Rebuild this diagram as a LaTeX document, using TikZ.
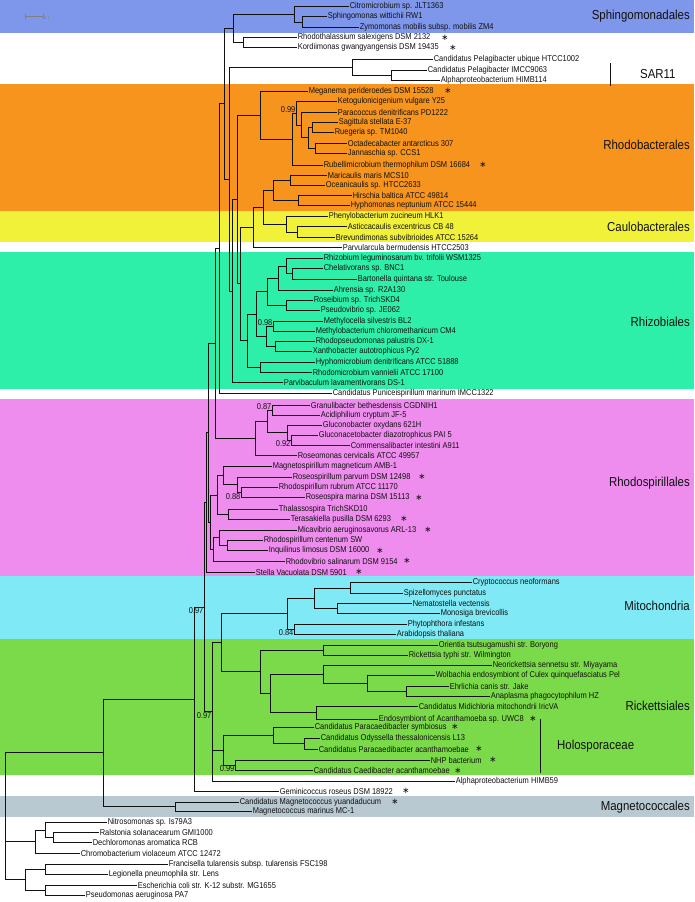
\documentclass[tikz,border=0pt]{standalone}
\usepackage{fontspec}
\setmainfont{Liberation Sans}[FakeStretch=0.88]
\newfontfamily\astfont{DejaVu Sans}
\newcommand\lbl{\fontsize{8.5}{9}\selectfont}
\newcommand\cladefnt{\fontsize{13}{14}\selectfont}
\definecolor{cSphc}{HTML}{7E97EB}
\definecolor{cOrg}{HTML}{F7941D}
\definecolor{cYel}{HTML}{F1F13A}
\definecolor{cTeal}{HTML}{2EEFA9}
\definecolor{cPink}{HTML}{EE8DEE}
\definecolor{cCyan}{HTML}{7FE9F5}
\definecolor{cGrn}{HTML}{7BDA4A}
\definecolor{cGry}{HTML}{B9C9D1}
\definecolor{lineC}{HTML}{111111}
\tikzset{
  leaf/.style={anchor=west, inner sep=0.6pt, font=\lbl, text=lineC},
  br/.style={draw=lineC, line width=0.9pt},
  ast/.style={inner sep=0pt, font=\astfont\fontsize{8.5}{9}\selectfont, text=lineC},
  supl/.style={inner sep=0.4pt, font=\lbl, text=lineC},
  clade/.style={anchor=east, inner sep=0pt, font=\cladefnt, text=lineC},
}
\begin{document}
\begin{tikzpicture}[x=1pt,y=-1pt]
\useasboundingbox (0,0) rectangle (694,902);
% bands
\fill[white] (0,0) rectangle (694,902);
\fill[cSphc] (0,0) rectangle (694,33);
\fill[cOrg] (0,84) rectangle (694,211);
\fill[cYel] (0,211) rectangle (694,242);
\fill[cTeal] (0,252) rectangle (694,389);
\fill[cPink] (0,399) rectangle (694,576);
\fill[cCyan] (0,576) rectangle (694,639);
\fill[cGrn] (0,639) rectangle (694,775);
\fill[cGry] (0,796) rectangle (694,817);
% leaves
\node[leaf] (L1) at (349,6.7) {Citromicrobium sp. JLT1363};
\node[leaf] (L2) at (327,16.7) {Sphingomonas wittichii RW1};
\node[leaf] (L3) at (359,27.3) {Zymomonas mobilis subsp. mobilis ZM4};
\node[leaf] (L4) at (297,37.7) {Rhodothalassium salexigens DSM 2132};
\node[leaf] (L5) at (297,47.7) {Kordiimonas gwangyangensis DSM 19435};
\node[leaf] (L6) at (433,59.3) {Candidatus Pelagibacter ubique HTCC1002};
\node[leaf] (L7) at (427,70) {Candidatus Pelagibacter IMCC9063};
\node[leaf] (L8) at (440,80) {Alphaproteobacterium HIMB114};
\node[leaf] (L9) at (308,91) {Meganema perideroedes DSM 15528};
\node[leaf] (L10) at (337,101.7) {Ketogulonicigenium vulgare Y25};
\node[leaf] (L11) at (337,112.3) {Paracoccus denitrificans PD1222};
\node[leaf] (L12) at (338,122.7) {Sagittula stellata E-37};
\node[leaf] (L13) at (334,132.3) {Ruegeria sp. TM1040};
\node[leaf] (L14) at (347,143.3) {Octadecabacter antarcticus 307};
\node[leaf] (L15) at (347,153.3) {Jannaschia sp. CCS1};
\node[leaf] (L16) at (323,165) {Rubellimicrobium thermophilum DSM 16684};
\node[leaf] (L17) at (327,175) {Maricaulis maris MCS10};
\node[leaf] (L18) at (325,185) {Oceanicaulis sp. HTCC2633};
\node[leaf] (L19) at (352,195) {Hirschia baltica ATCC 49814};
\node[leaf] (L20) at (350,205.7) {Hyphomonas neptunium ATCC 15444};
\node[leaf] (L21) at (328,216) {Phenylobacterium zucineum HLK1};
\node[leaf] (L22) at (347,226.7) {Asticcacaulis excentricus CB 48};
\node[leaf] (L23) at (335,237.3) {Brevundimonas subvibrioides ATCC 15264};
\node[leaf] (L24) at (342,247.3) {Parvularcula bermudensis HTCC2503};
\node[leaf] (L25) at (323,258.3) {Rhizobium leguminosarum bv. trifolii WSM1325};
\node[leaf] (L26) at (323,268.3) {Chelativorans sp. BNC1};
\node[leaf] (L27) at (357,279.3) {Bartonella quintana str. Toulouse};
\node[leaf] (L28) at (333,290) {Ahrensia sp. R2A130};
\node[leaf] (L29) at (313,300) {Roseibium sp. TrichSKD4};
\node[leaf] (L30) at (320,310.7) {Pseudovibrio sp. JE062};
\node[leaf] (L31) at (323,321) {Methylocella silvestris BL2};
\node[leaf] (L32) at (315,331) {Methylobacterium chloromethanicum CM4};
\node[leaf] (L33) at (315,341.7) {Rhodopseudomonas palustris DX-1};
\node[leaf] (L34) at (312,351.7) {Xanthobacter autotrophicus Py2};
\node[leaf] (L35) at (315,362.3) {Hyphomicrobium denitrificans ATCC 51888};
\node[leaf] (L36) at (312,372.3) {Rhodomicrobium vannielii ATCC 17100};
\node[leaf] (L37) at (283,382.7) {Parvibaculum lavamentivorans DS-1};
\node[leaf] (L38) at (332,393.3) {Candidatus Puniceispirillum marinum IMCC1322};
\node[leaf] (L39) at (310,405) {Granulibacter bethesdensis CGDNIH1};
\node[leaf] (L40) at (320,415) {Acidiphilium cryptum JF-5};
\node[leaf] (L41) at (322,425) {Gluconobacter oxydans 621H};
\node[leaf] (L42) at (318,435) {Gluconacetobacter diazotrophicus PAI 5};
\node[leaf] (L43) at (350,445) {Commensalibacter intestini A911};
\node[leaf] (L44) at (297,455.7) {Roseomonas cervicalis ATCC 49957};
\node[leaf] (L45) at (272,466.7) {Magnetospirillum magneticum AMB-1};
\node[leaf] (L46) at (292,477.3) {Roseospirillum parvum DSM 12498};
\node[leaf] (L47) at (278,487.3) {Rhodospirillum rubrum ATCC 11170};
\node[leaf] (L48) at (305,497.7) {Roseospira marina DSM 15113};
\node[leaf] (L49) at (278,509) {Thalassospira TrichSKD10};
\node[leaf] (L50) at (290,519.3) {Terasakiella pusilla DSM 6293};
\node[leaf] (L51) at (297,530) {Micavibrio aeruginosavorus ARL-13};
\node[leaf] (L52) at (263,540.7) {Rhodospirillum centenum SW};
\node[leaf] (L53) at (268,550.7) {Inquilinus limosus DSM 16000};
\node[leaf] (L54) at (285,561) {Rhodovibrio salinarum DSM 9154};
\node[leaf] (L55) at (255,572.3) {Stella Vacuolata DSM 5901};
\node[leaf] (L56) at (472,582.7) {Cryptococcus neoformans};
\node[leaf] (L57) at (403,593.3) {Spizellomyces punctatus};
\node[leaf] (L58) at (412,603.3) {Nematostella vectensis};
\node[leaf] (L59) at (440,613.3) {Monosiga brevicollis};
\node[leaf] (L60) at (407,624) {Phytophthora infestans};
\node[leaf] (L61) at (396,634) {Arabidopsis thaliana};
\node[leaf] (L62) at (438,645) {Orientia tsutsugamushi str. Boryong};
\node[leaf] (L63) at (408,655) {Rickettsia typhi str. Wilmington};
\node[leaf] (L64) at (492,665.7) {Neorickettsia sennetsu str. Miyayama};
\node[leaf] (L65) at (435,675.7) {Wolbachia endosymbiont of Culex quinquefasciatus Pel};
\node[leaf] (L66) at (449,686.7) {Ehrlichia canis str. Jake};
\node[leaf] (L67) at (490,696) {Anaplasma phagocytophilum HZ};
\node[leaf] (L68) at (418,706.7) {Candidatus Midichloria mitochondrii IricVA};
\node[leaf] (L69) at (378,719) {Endosymbiont of Acanthamoeba sp. UWC8};
\node[leaf] (L70) at (314,727.3) {Candidatus Paracaedibacter symbiosus};
\node[leaf] (L71) at (320,738.3) {Candidatus Odyssella thessalonicensis L13};
\node[leaf] (L72) at (318,749) {Candidatus Paracaedibacter acanthamoebae};
\node[leaf] (L73) at (430,760) {NHP bacterium};
\node[leaf] (L74) at (313,770.7) {Candidatus Caedibacter acanthamoebae};
\node[leaf] (L75) at (455,781) {Alphaproteobacterium HIMB59};
\node[leaf] (L76) at (279,791) {Geminicoccus roseus DSM 18922};
\node[leaf] (L77) at (239,802) {Candidatus Magnetococcus yuandaducum};
\node[leaf] (L78) at (252,811) {Magnetococcus marinus MC-1};
\node[leaf] (L79) at (107,822.3) {Nitrosomonas sp. Is79A3};
\node[leaf] (L80) at (99,832.7) {Ralstonia solanacearum GMI1000};
\node[leaf] (L81) at (92,842.7) {Dechloromonas aromatica RCB};
\node[leaf] (L82) at (80,853.3) {Chromobacterium violaceum ATCC 12472};
\node[leaf] (L83) at (168,864) {Francisella tularensis subsp. tularensis FSC198};
\node[leaf] (L84) at (108,874.3) {Legionella pneumophila str. Lens};
\node[leaf] (L85) at (137,885) {Escherichia coli str. K-12 substr. MG1655};
\node[leaf] (L86) at (85,895) {Pseudomonas aeruginosa PA7};
% asterisks
\node[ast] (s4) at (445,37.7) {∗};
\node[ast] (s5) at (453,47.7) {∗};
\node[ast] (s9) at (448,91) {∗};
\node[ast] (s16) at (483,165) {∗};
\node[ast] (s46) at (422,477.3) {∗};
\node[ast] (s48) at (419,497.7) {∗};
\node[ast] (s50) at (404,519.3) {∗};
\node[ast] (s51) at (428,530) {∗};
\node[ast] (s53) at (380,550.7) {∗};
\node[ast] (s54) at (407,561) {∗};
\node[ast] (s55) at (359,572.3) {∗};
\node[ast] (s69) at (533,719) {∗};
\node[ast] (s70) at (455,727.3) {∗};
\node[ast] (s72) at (479,749) {∗};
\node[ast] (s73) at (493,760) {∗};
\node[ast] (s74) at (458,770.7) {∗};
\node[ast] (s76) at (406,791) {∗};
\node[ast] (s77) at (395,802) {∗};
% internal nodes
\coordinate (nSZ) at (302,22.0);
\coordinate (nSph) at (294,14.35);
\coordinate (nRK) at (243,42.7);
\coordinate (nA1) at (233,28.5);
\coordinate (nP2) at (391,75);
\coordinate (nSAR) at (352,67.15);
\coordinate (nRu) at (312,127.5);
\coordinate (nOJ) at (315,148.3);
\coordinate (nRO) at (308,137.9);
\coordinate (nPa) at (301,125.1);
\coordinate (nKe) at (296,113.4);
\coordinate (nRub) at (292,139.2);
\coordinate (nRhb) at (260,115.1);
\coordinate (nMO) at (290,180);
\coordinate (nHH) at (298,200.35);
\coordinate (nHyp) at (273,190.2);
\coordinate (nAB) at (297,232);
\coordinate (nCau) at (286,224);
\coordinate (nCH) at (263,207.1);
\coordinate (nPv) at (253,227.2);
\coordinate (nCB) at (292,273.8);
\coordinate (nRz) at (286,266);
\coordinate (nAh) at (278,278);
\coordinate (nRP) at (286,305.35);
\coordinate (nR1) at (267,291.7);
\coordinate (nMM) at (273,326);
\coordinate (nRX) at (275,346.7);
\coordinate (nR2) at (266,336.35);
\coordinate (nR3) at (256,314);
\coordinate (nHR) at (260,367.3);
\coordinate (nRzb) at (247,340.65);
\coordinate (n240) at (240,283.9);
\coordinate (n237) at (237,199.5);
\coordinate (n232) at (232,291.1);
\coordinate (n229) at (229,179.1);
\coordinate (n224) at (224,103.8);
\coordinate (n219) at (219,248.55);
\coordinate (nGA) at (272,410);
\coordinate (nGC) at (291,440);
\coordinate (nGl) at (287,432.5);
\coordinate (nAc1) at (267,421.25);
\coordinate (nAce) at (255,438.5);
\coordinate (n215) at (215,343.5);
\coordinate (nRR) at (241,492.5);
\coordinate (nRo) at (237,484.9);
\coordinate (nMa) at (223,475.8);
\coordinate (nTT) at (228,514.15);
\coordinate (n217) at (217,495);
\coordinate (nCI) at (227,545.7);
\coordinate (nMi) at (219,537.85);
\coordinate (n213) at (213.5,549.4);
\coordinate (n210) at (210.5,522.2);
\coordinate (n211) at (208,432.85);
\coordinate (n207) at (206,502.6);
\coordinate (nCS) at (350,588);
\coordinate (nNM) at (337,608.3);
\coordinate (nFu) at (314,598.15);
\coordinate (nPA) at (294,629);
\coordinate (nMit) at (287,613.6);
\coordinate (nOR) at (323,650);
\coordinate (nEA) at (406,691.35);
\coordinate (nWo) at (367,683.5);
\coordinate (nNe) at (323,674.6);
\coordinate (nMU) at (316,712.85);
\coordinate (nR7) at (270,693.7);
\coordinate (nRk) at (260,671.85);
\coordinate (n221) at (221,642.7);
\coordinate (nOP) at (304,743.65);
\coordinate (nPs) at (273,735.5);
\coordinate (nNC) at (235,765.35);
\coordinate (nHo) at (223,750.4);
\coordinate (n212) at (212,711.85);
\coordinate (n204) at (204,607.2);
\coordinate (n195) at (194,699.1);
\coordinate (nMg) at (175,806.5);
\coordinate (n103) at (103,752.8);
\coordinate (nRD) at (53,837.7);
\coordinate (nNi) at (45,830);
\coordinate (nBe) at (35,841.65);
\coordinate (nFL) at (45,869.15);
\coordinate (nEP) at (45,890);
\coordinate (nGa) at (25,879.6);
\coordinate (nRoot) at (5,816.2);
% branches to leaves
\foreach \p/\c in {nSph/L1,nSZ/L2,nSZ/L3,nRK/L4,nRK/L5,nSAR/L6,nP2/L7,nP2/L8,
  nRhb/L9,nKe/L10,nPa/L11,nRu/L12,nRu/L13,nOJ/L14,nOJ/L15,nRub/L16,
  nMO/L17,nMO/L18,nHH/L19,nHH/L20,nCau/L21,nAB/L22,nAB/L23,nPv/L24,
  nRz/L25,nCB/L26,nCB/L27,nAh/L28,nRP/L29,nRP/L30,nMM/L31,nMM/L32,nRX/L33,nRX/L34,
  nHR/L35,nHR/L36,n232/L37,n219/L38,nGA/L39,nGA/L40,nGl/L41,nGC/L42,nGC/L43,nAce/L44,
  nMa/L45,nRo/L46,nRR/L47,nRR/L48,nTT/L49,nTT/L50,nMi/L51,nCI/L52,nCI/L53,n213/L54,n207/L55,
  nCS/L56,nCS/L57,nNM/L58,nNM/L59,nPA/L60,nPA/L61,nOR/L62,nOR/L63,nNe/L64,nWo/L65,nEA/L66,nEA/L67,
  nMU/L68,nMU/L69,nPs/L70,nOP/L71,nOP/L72,nNC/L73,nNC/L74,n212/L75,n195/L76,nMg/L77,nMg/L78,
  nNi/L79,nRD/L80,nRD/L81,nBe/L82,nFL/L83,nFL/L84,nEP/L85,nEP/L86}
  \draw[br] (\p) |- (\c.west);
% branches between internal nodes
\foreach \p/\c in {nSph/nSZ,nA1/nSph,nA1/nRK,nSAR/nP2,nRO/nRu,nRO/nOJ,nPa/nRO,nKe/nPa,nRub/nKe,nRhb/nRub,
  nHyp/nMO,nHyp/nHH,nCau/nAB,nCH/nHyp,nCH/nCau,nPv/nCH,nRz/nCB,nAh/nRz,nR1/nAh,nR1/nRP,
  nR2/nMM,nR2/nRX,nR3/nR1,nR3/nR2,nRzb/nR3,nRzb/nHR,n240/nPv,n240/nRzb,n237/nRhb,n237/n240,
  n232/n237,n229/nSAR,n229/n232,n224/nA1,n224/n229,n219/n224,nGl/nGC,nAc1/nGA,nAc1/nGl,nAce/nAc1,
  n215/n219,n215/nAce,nRo/nRR,nMa/nRo,n217/nMa,n217/nTT,nMi/nCI,n213/nMi,n210/n217,n210/n213,
  n211/n215,n211/n210,n207/n211,nFu/nCS,nFu/nNM,nMit/nFu,nMit/nPA,nWo/nEA,nNe/nWo,nR7/nNe,nR7/nMU,
  nRk/nOR,nRk/nR7,n221/nMit,n221/nRk,nPs/nOP,nHo/nPs,nHo/nNC,n212/n221,n212/nHo,n204/n207,n204/n212,
  n195/n204,n103/n195,n103/nMg,nNi/nRD,nBe/nNi,nGa/nFL,nGa/nEP,nRoot/n103,nRoot/nBe,nRoot/nGa}
  \draw[br] (\p) |- (\c);
% support values
\node[supl, anchor=south east] (b1) at (nKe) {0.99};
\node[supl, anchor=south east] (b2) at (nMM) {0.98};
\node[supl, anchor=south east] (b3) at (nGA) {0.87};
\node[supl, anchor=north east] (b4) at (nGC) {0.92};
\node[supl, anchor=north east] (b5) at (nRR) {0.88};
\node[supl, anchor=north east] (b6) at (n204) {0.97};
\node[supl, anchor=north east] (b7) at (nPA) {0.84};
\node[supl, anchor=north east] (b8) at (n212) {0.97};
\node[supl, anchor=north east] (b9) at (nNC) {0.99};
% clade labels
\node[clade] (cSph) at (690,16) {Sphingomonadales};
\node[clade, anchor=west] (cSAR) at (640,74) {SAR11};
\coordinate (barA1) at (610,63);
\coordinate (barA2) at (610,86);
\draw[line width=1pt, lineC] (barA1) -- (barA2);
\node[clade] (cRhb) at (690,145) {Rhodobacterales};
\node[clade] (cCau) at (690,227) {Caulobacterales};
\node[clade] (cRhz) at (690,322) {Rhizobiales};
\node[clade] (cRsp) at (690,483) {Rhodospirillales};
\node[clade] (cMit) at (690,606) {Mitochondria};
\node[clade] (cRic) at (690,706) {Rickettsiales};
\node[clade, anchor=west] (cHol) at (557,746) {Holosporaceae};
\coordinate (barB1) at (540,719);
\coordinate (barB2) at (540,773);
\draw[line width=1pt, lineC] (barB1) -- (barB2);
\node[clade] (cMag) at (690,807) {Magnetococcales};
% scale bar
\coordinate (sc1) at (25,16);
\coordinate (sc2) at (43,16);
\draw[gray, line width=0.9pt] (sc1) -- (sc2);
\draw[gray, line width=0.8pt] ([yshift=-2.5pt]sc1) -- ([yshift=2.5pt]sc1);
\draw[gray, line width=0.8pt] ([yshift=-2.5pt]sc2) -- ([yshift=2.5pt]sc2);
\node[anchor=west, inner sep=0.5pt, font=\fontsize{4.5}{5}\selectfont, text=gray] (scl) at (43.5,17.5) {0.1};
\end{tikzpicture}
\end{document}
